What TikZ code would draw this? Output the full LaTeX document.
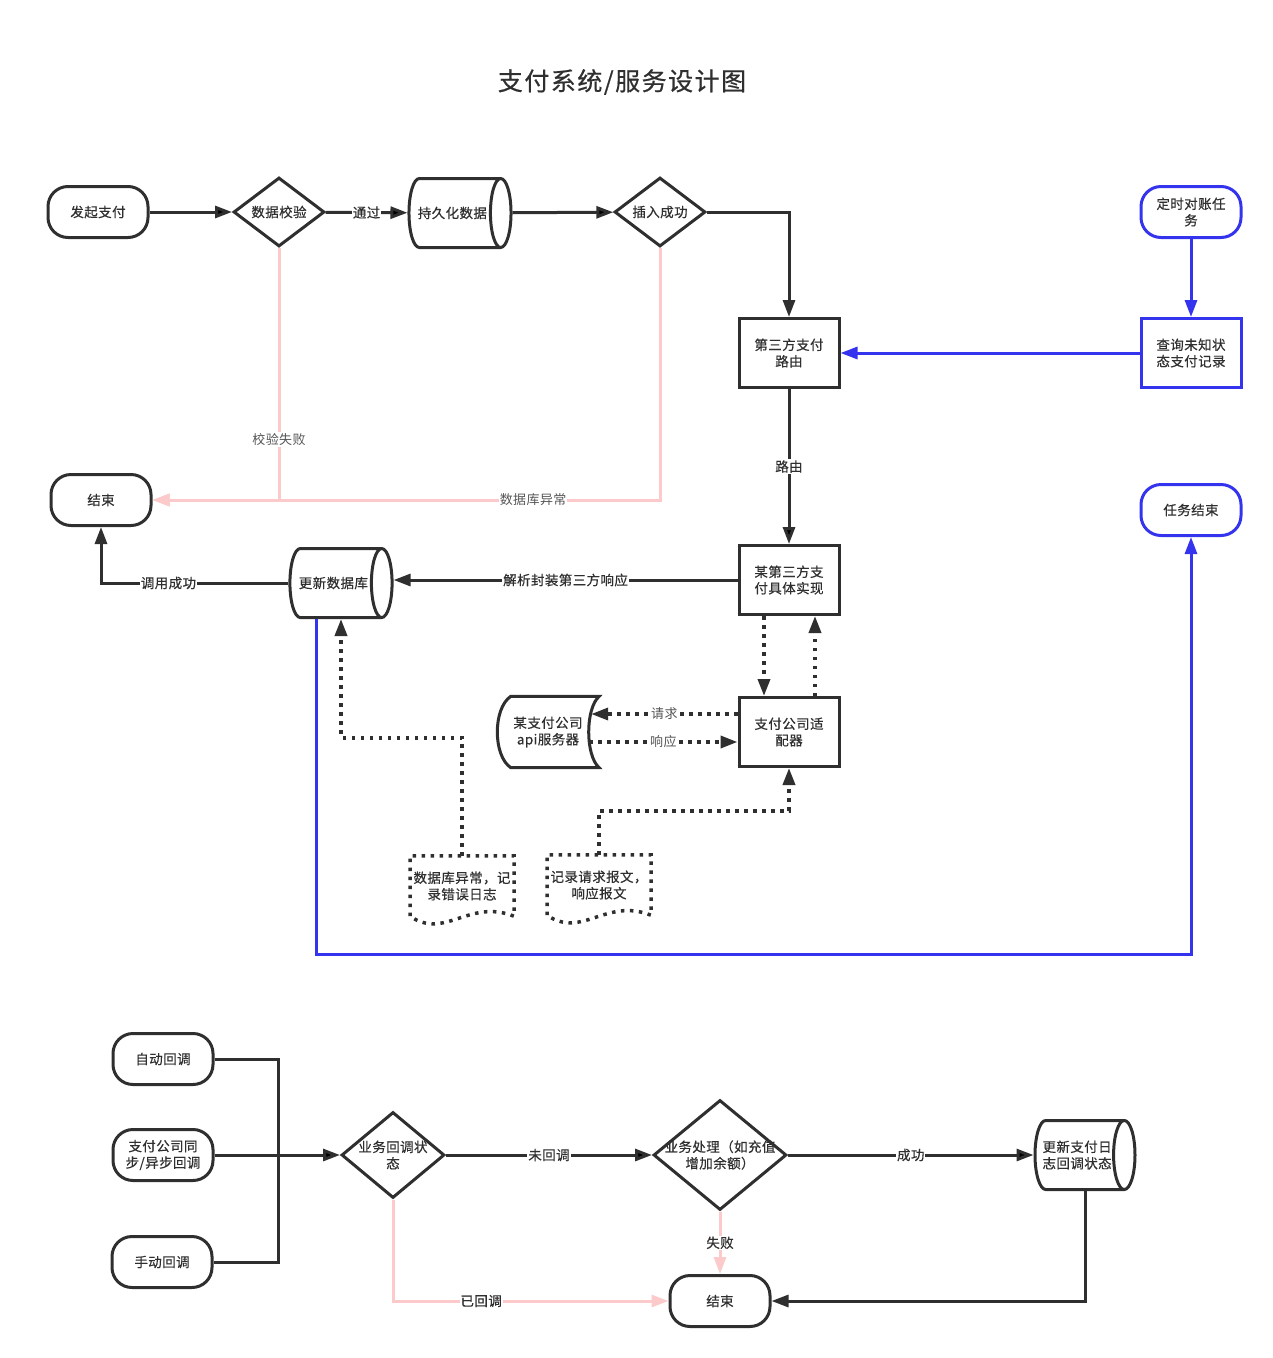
\documentclass[tikz,border=0pt]{standalone}
\usepackage{fontspec}
\newfontfamily\cjk[LetterSpace=3, FakeBold=0.4]{Noto Sans CJK SC}
\newfontfamily\cjklight[LetterSpace=3]{Noto Sans CJK SC}
\newfontfamily\cjktitle[LetterSpace=6, FakeBold=0.6]{Noto Sans CJK SC}
\usetikzlibrary{shapes.geometric, arrows.meta, positioning}
\definecolor{ink}{HTML}{2F2F2F}
\definecolor{bluel}{HTML}{3434EE}
\definecolor{pinkl}{HTML}{FCCACA}
\definecolor{labelgray}{HTML}{555555}

\begin{document}
\begin{tikzpicture}[x=1pt, y=-1pt,
    every node/.style={font=\cjk\fontsize{13.5}{16.5}\selectfont, text=ink, align=center},
    terminal/.style={rectangle, rounded corners=20pt, draw=ink, line width=3pt, minimum width=100pt, minimum height=51pt},
    process/.style={rectangle, draw=ink, line width=3pt, minimum width=100pt, minimum height=69pt},
    decision/.style={diamond, draw=ink, line width=3pt, inner sep=0pt, minimum width=91pt, minimum height=69pt},
    database/.style={cylinder, draw=ink, line width=3pt, shape border rotate=0, aspect=1.25, minimum width=69pt, minimum height=100pt, anchor=shape center, inner sep=2pt},
    storebox/.style={minimum width=102pt, minimum height=71pt},
    docbox/.style={minimum width=102pt, minimum height=60pt},
    wire/.style={draw=ink, line width=3pt},
    flow/.style={wire, -{Triangle[length=17pt, width=12pt]}},
    pinkflow/.style={draw=pinkl, line width=3pt, -{Triangle[length=17pt, width=12pt]}},
    dotline/.style={draw=ink, line width=3.5pt, dash pattern=on 3.5pt off 5.5pt},
    dotflow/.style={dotline, -{Triangle[length=17pt, width=12pt]}},
    lbl/.style={fill=white, inner sep=1pt},
    glbl/.style={lbl, text=labelgray, font=\cjklight\fontsize{13}{16}\selectfont}
]
    \useasboundingbox (0,0) rectangle (1273,1358);
    \node[font=\cjktitle\fontsize{25}{30}\selectfont, text=ink] (title) at (622,82) {支付系统/服务设计图};

    % payment flow
    \node[terminal] (start) at (98,212) {发起支付};
    \node[decision, label=center:数据校验] (check) at (279,212) {};
    \node[database] (persist) at (460,213) {持久化数据};
    \node[decision, label=center:插入成功] (insert) at (660,212) {};
    \node[process] (route) at (789,353) {第三方支付\\路由};
    \node[terminal] (end1) at (101,500) {结束};
    \node[process] (impl) at (789,580) {某第三方支\\付具体实现};
    \node[database] (upd) at (341,583) {更新数据库};
    \coordinate (updbase) at (upd.south -| upd.shape center);
    \node[process] (adapter) at (789,732) {支付公司适\\配器};
    \node[storebox] (api) at (548,732) {某支付公司\\api服务器};
    \node[docbox] (errlog) at (462,886) {数据库异常，记\\录错误日志};
    \node[docbox] (msglog) at (599,885) {记录请求报文，\\响应报文};

    % reconciliation task
    \node[terminal, draw=bluel] (task) at (1191,212) {定时对账任\\务};
    \node[process, draw=bluel] (query) [below=78pt of task] {查询未知状\\态支付记录};
    \node[terminal, draw=bluel] (taskend) at (1191,510) {任务结束};

    % callback flow
    \node[terminal] (auto) at (163,1059) {自动回调};
    \node[terminal] (sync) at (163,1155) {支付公司同\\步/异步回调};
    \node[terminal] (manual) at (162,1262) {手动回调};
    \node[decision, minimum width=103pt, minimum height=86pt,
          label={[align=center]center:业务回调状\\态}] (cbstate) at (393,1155) {};
    \node[decision, minimum width=133pt, minimum height=110pt,
          label={[align=center]center:业务处理（如充值\\增加余额）}] (biz) at (720,1155) {};
    \node[database, aspect=0.65, inner xsep=-8pt] (updlog) at (1085,1155) {更新支付日\\志回调状态};
    \coordinate (updlogbase) at (updlog.south -| updlog.shape center);
    \node[terminal] (end2) at (720,1301) {结束};

    % outlines
    \draw[wire] ([xshift=14pt]api.north west) -- (api.north east)
        .. controls +(-14,12) and +(-14,-12) .. (api.south east)
        -- ([xshift=14pt]api.south west)
        .. controls +(-18,-12) and +(-18,12) .. ([xshift=14pt]api.north west) -- cycle;
    \foreach \d in {errlog, msglog}
        \draw[dotline] (\d.south west) -- (\d.north west) -- (\d.north east) -- (\d.south east)
            .. controls +(-45,-18) and +(35,24) .. (\d.south west);

    \path[flow]
    (start) edge (check)
    (check) edge node[lbl] {通过} (persist)
    (persist) edge (insert)
    (route) edge node[lbl] {路由} (impl)
    (sync) edge (cbstate)
    (cbstate) edge node[lbl] {未回调} (biz)
    (biz) edge node[lbl] {成功} (updlog);

    \draw[flow] (insert.east) -| (route.north);
    \draw[flow] (impl.west) -- (impl.west -| upd.east) node[lbl, pos=0.5] {解析封装第三方响应};
    \draw[flow] (upd.west) -| node[lbl, pos=0.32] {调用成功} (end1.south);
    \draw[pinkflow] (check.south) |- node[glbl, pos=0.38] {校验失败} (end1.east);
    \draw[pinkflow] (insert.south) |- node[glbl, pos=0.625] {数据库异常} (end1.east);

    \draw[flow, draw=bluel] (task) -- (query);
    \draw[flow, draw=bluel] (query) -- (route);
    \draw[flow, draw=bluel] ([xshift=-25pt]updbase) -- ++(0,335) -| (taskend.south);

    \draw[dotflow] ([xshift=-25pt]impl.south) -- ([xshift=-25pt]adapter.north);
    \draw[dotflow] ([xshift=26pt]adapter.north) -- ([xshift=26pt]impl.south);
    \draw[dotflow] ([yshift=18pt]adapter.west) -- node[glbl] {请求} ([xshift=-8pt, yshift=18pt]api.east);
    \draw[dotflow] ([xshift=-10pt, yshift=-10pt]api.east) -- node[glbl] {响应} ([yshift=-10pt]adapter.west);
    \draw[dotflow] (errlog.north) -- ++(0,-118) -| (updbase);
    \draw[dotflow] (msglog.north) -- ++(0,-44) -| (adapter.south);

    \draw[wire] (auto.east) -- ++(64,0) |- (manual.east);
    \draw[pinkflow] (biz.south) -- node[lbl] {失败} (end2.north);
    \draw[pinkflow] (cbstate.south) |- node[lbl, pos=0.66] {已回调} (end2.west);
    \draw[flow] (updlogbase) |- (end2.east);
\end{tikzpicture}
\end{document}
